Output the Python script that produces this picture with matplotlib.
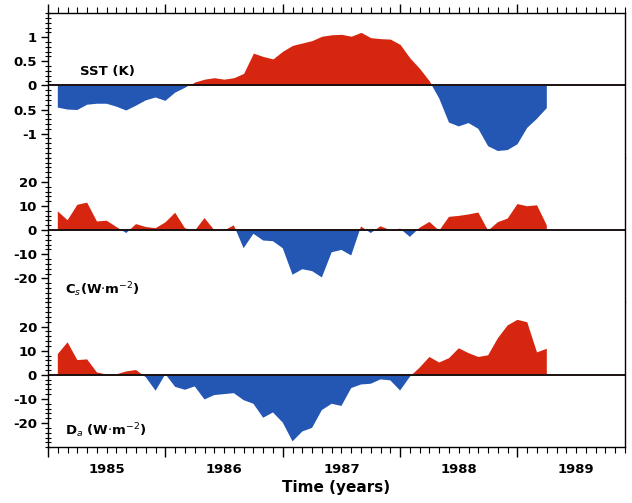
import numpy as np
import matplotlib
matplotlib.use('Agg')
import matplotlib.pyplot as plt
from matplotlib.ticker import MultipleLocator

# monthly samples, Feb 1985 .. Apr 1989 (decimal years)
months = 1985 + np.arange(1, 52) / 12.0

sst = [-0.46, -0.50, -0.51, -0.40, -0.38, -0.38, -0.44, -0.52, -0.42, -0.31,
       -0.25, -0.32, -0.15, -0.05, 0.07, 0.13, 0.16, 0.13, 0.16, 0.25,
       0.67, 0.60, 0.55, 0.71, 0.83, 0.88, 0.93, 1.02, 1.05, 1.06,
       1.02, 1.10, 0.99, 0.97, 0.96, 0.85, 0.57, 0.35, 0.09, -0.27,
       -0.77, -0.85, -0.78, -0.90, -1.26, -1.36, -1.34, -1.22, -0.88, -0.69,
       -0.47]

cs = [7.8, 4.1, 10.5, 11.4, 3.6, 3.9, 1.3, -1.2, 2.5, 1.3,
      0.8, 3.2, 7.2, 0.8, -0.3, 5.0, 0.0, -0.2, 2.0, -7.5,
      -1.5, -4.3, -4.6, -7.5, -18.5, -16.2, -17.0, -19.6, -9.2, -8.2,
      -10.5, 1.5, -1.2, 1.6, 0.0, 0.6, -2.8, 1.0, 3.4, -0.2,
      5.5, 5.9, 6.5, 7.3, -0.2, 3.3, 4.8, 10.8, 9.9, 10.3,
      2.0]

da = [8.6, 13.5, 6.1, 6.4, 1.0, 0.1, 0.2, 1.4, 2.0, -1.0,
      -6.6, 0.3, -5.0, -6.2, -4.8, -10.2, -8.4, -8.0, -7.6, -10.5,
      -12.0, -17.8, -15.6, -19.8, -27.6, -23.5, -22.0, -14.6, -12.0, -12.9,
      -5.5, -4.0, -3.7, -1.9, -2.3, -6.5, -0.8, 3.0, 7.4, 5.1,
      6.9, 11.0, 9.0, 7.4, 8.1, 15.2, 20.5, 22.8, 21.8, 9.3,
      10.8]

years = [1985, 1986, 1987, 1988, 1989]
red = '#d6260f'
blue = '#2456b4'

fig = plt.figure(figsize=(6.32, 5.03), dpi=100)
gs = fig.add_gridspec(3, 1, left=0.076, right=0.989, top=0.974, bottom=0.111, hspace=0)
axes = [fig.add_subplot(gs[k]) for k in range(3)]

panels = [
    (sst, 1.5, [-1, -0.5, 0, 0.5, 1], ['-1', '0.5', '0', '0.5', '1'], 0.1, 'SST (K)', (0.055, 0.575)),
    (cs, 30, [-20, -10, 0, 10, 20], ['-20', '-10', '0', '10', '20'], 2, r'C$_s$(W$\cdot$m$^{-2}$)', (0.029, 0.06)),
    (da, 30, [-20, -10, 0, 10, 20], ['-20', '-10', '0', '10', '20'], 2, r'D$_a$ (W$\cdot$m$^{-2}$)', (0.029, 0.08)),
]

month_ticks = np.arange(1985, 1990, 1 / 12.0)
month_labels = []
for t in month_ticks:
    m = int(round((t - 1985) * 12)) % 12
    month_labels.append(str(int(np.floor(t + 1e-6))) if m == 6 else '')

for k, (ax, (vals, lim, yt, ytl, ymin, lab, pos)) in enumerate(zip(axes, panels)):
    v = np.array(vals)
    ax.fill_between(months, v, 0, where=v >= 0, interpolate=True, color=red, linewidth=0)
    ax.fill_between(months, v, 0, where=v <= 0, interpolate=True, color=blue, linewidth=0)
    ax.axhline(0, color='#1a1010', lw=1.4)
    ax.set_xlim(1985.0, 1989.91)
    ax.set_ylim(-lim, lim)
    ax.set_yticks(yt)
    ax.set_yticklabels(ytl, fontsize=9.5, fontweight='bold')
    ax.yaxis.set_minor_locator(MultipleLocator(ymin))
    ax.tick_params(axis='y', which='major', direction='out', length=5, width=1.0, pad=3)
    ax.tick_params(axis='y', which='minor', direction='inout', length=4, width=0.8)
    ax.text(pos[0], pos[1], lab, transform=ax.transAxes, fontsize=9.5, fontweight='bold')
    for s in ax.spines.values():
        s.set_linewidth(1.0)

    ax.set_xticks(years)
    ax.set_xticks(month_ticks, minor=True)
    if k == 0:
        ax.spines['bottom'].set_visible(False)
        ax.tick_params(axis='x', which='both', bottom=False, top=True, labelbottom=False, direction='out')
        ax.tick_params(axis='x', which='major', length=6.5, width=1.0)
        ax.tick_params(axis='x', which='minor', length=4.3, width=0.8)
    elif k == 1:
        ax.spines['bottom'].set_visible(False)
        ax.spines['top'].set_visible(False)
        ax.tick_params(axis='x', which='both', bottom=False, top=False, labelbottom=False)
    else:
        ax.spines['top'].set_visible(False)
        ax.set_xticklabels([])
        ax.set_xticklabels(month_labels, minor=True, fontsize=9.5, fontweight='bold')
        ax.tick_params(axis='x', which='major', direction='out', length=7, width=1.0)
        ax.tick_params(axis='x', which='minor', direction='out', length=4.5, width=0.8, pad=7)
        ax.set_xlabel('Time (years)', fontsize=11, fontweight='bold', labelpad=3)

fig.savefig('out.png', dpi=100)
